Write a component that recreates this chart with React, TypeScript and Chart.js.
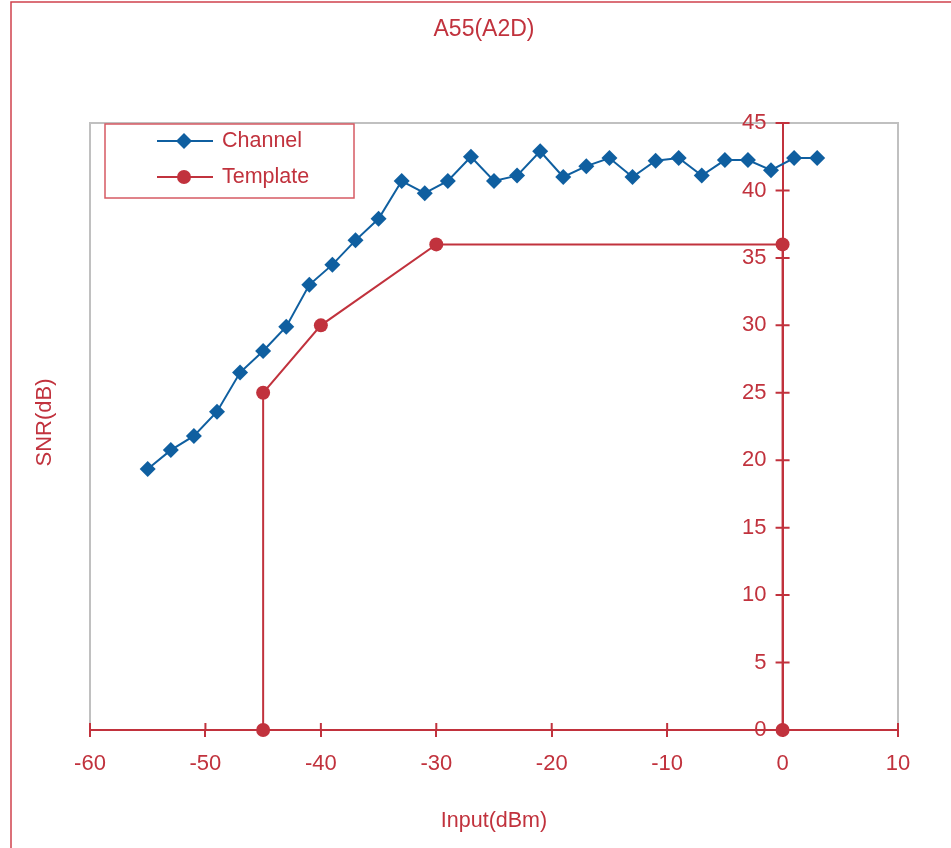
import React, { useEffect, useRef } from "react";
import { Chart, registerables } from "chart.js";

Chart.register(...registerables);

const chartTitle = "A55(A2D)";
const xAxisTitle = "Input(dBm)";
const yAxisTitle = "SNR(dB)";
const channelLabel = "Channel";
const templateLabel = "Template";

const channelX = [-55, -53, -51, -49, -47, -45, -43, -41, -39, -37, -35, -33, -31, -29, -27, -25, -23, -21, -19, -17, -15, -13, -11, -9, -7, -5, -3, -1, 1, 3];
const channelY = [19.35, 20.75, 21.8, 23.6, 26.5, 28.1, 29.9, 33.0, 34.5, 36.3, 37.9, 40.7, 39.8, 40.7, 42.5, 40.7, 41.1, 42.9, 41.0, 41.8, 42.4, 41.0, 42.2, 42.4, 41.1, 42.25, 42.25, 41.5, 42.4, 42.4];

const templateX = [-45, -45, -40, -30, 0, 0];
const templateY = [0, 25, 30, 36, 36, 0];

const xMin = -60;
const xMax = 10;
const xStep = 10;
const yMin = 0;
const yMax = 45;
const yStep = 5;

const RED = "#c1323d";
const BLUE = "#0f5fa0";
const FONT = "'Liberation Sans', Arial, sans-serif";

const decorPlugin = {
  id: "decor",
  beforeDraw(chart: any) {
    const ctx = chart.ctx;
    const a = chart.chartArea;
    ctx.save();
    ctx.fillStyle = "#ffffff";
    ctx.fillRect(0, 0, chart.width, chart.height);
    // outer frame
    ctx.strokeStyle = "#d0414c";
    ctx.lineWidth = 1.5;
    ctx.strokeRect(11, 2, chart.width + 20, chart.height + 20);
    // plot frame
    ctx.strokeStyle = "#c0c0c0";
    ctx.lineWidth = 2;
    ctx.strokeRect(a.left, a.top, a.right - a.left, a.bottom - a.top);
    ctx.restore();
  },
  beforeDatasetsDraw(chart: any) {
    const ctx = chart.ctx;
    const xs = chart.scales.x;
    const ys = chart.scales.y;
    const a = chart.chartArea;
    const x0 = xs.getPixelForValue(0);
    ctx.save();
    ctx.strokeStyle = RED;
    ctx.lineWidth = 2;
    ctx.beginPath();
    for (const t of xs.ticks) {
      const px = xs.getPixelForValue(t.value);
      ctx.moveTo(px, a.bottom);
      ctx.lineTo(px, a.bottom - 7);
    }
    for (const t of ys.ticks) {
      const py = ys.getPixelForValue(t.value);
      ctx.moveTo(x0 - 7, py);
      ctx.lineTo(x0 + 7, py);
    }
    ctx.stroke();
    // y tick labels (left of the axis line at x = 0)
    ctx.fillStyle = RED;
    ctx.font = `22px ${FONT}`;
    ctx.textAlign = "right";
    ctx.textBaseline = "middle";
    for (const t of ys.ticks) {
      const py = ys.getPixelForValue(t.value);
      ctx.fillText(String(t.label), x0 - 16, py);
    }
    ctx.restore();
  },
  afterDraw(chart: any) {
    const ctx = chart.ctx;
    const a = chart.chartArea;
    ctx.save();
    ctx.fillStyle = RED;
    ctx.font = `23px ${FONT}`;
    ctx.textAlign = "center";
    ctx.textBaseline = "middle";
    ctx.fillText(chartTitle, 484, 30);
    // y title
    ctx.font = `22px ${FONT}`;
    ctx.save();
    ctx.translate(45, (a.top + a.bottom) / 2 - 4);
    ctx.rotate(-Math.PI / 2);
    ctx.fillText(yAxisTitle, 0, 0);
    ctx.restore();
    // legend
    const lx = 105, ly = 124, lw = 249, lh = 74;
    ctx.strokeStyle = "#d65a63";
    ctx.lineWidth = 1.5;
    ctx.strokeRect(lx, ly, lw, lh);
    ctx.font = `21.5px ${FONT}`;
    const items = [
      { label: channelLabel, ds: chart.data.datasets[0], y: 141 },
      { label: templateLabel, ds: chart.data.datasets[1], y: 177 },
    ];
    for (const it of items) {
      const c = it.ds.borderColor;
      ctx.strokeStyle = c;
      ctx.lineWidth = 2;
      ctx.beginPath();
      ctx.moveTo(157, it.y);
      ctx.lineTo(213, it.y);
      ctx.stroke();
      ctx.fillStyle = c;
      ctx.beginPath();
      if (it.ds.pointStyle === "rectRot") {
        const r = 8;
        ctx.moveTo(184, it.y - r);
        ctx.lineTo(184 + r, it.y);
        ctx.lineTo(184, it.y + r);
        ctx.lineTo(184 - r, it.y);
        ctx.closePath();
      } else {
        ctx.arc(184, it.y, 7, 0, Math.PI * 2);
      }
      ctx.fill();
      ctx.fillStyle = RED;
      ctx.textAlign = "left";
      ctx.fillText(it.label, 222, it.y);
    }
    ctx.restore();
  },
};

export default function App() {
  const ref = useRef<HTMLCanvasElement | null>(null);
  useEffect(() => {
    if (!ref.current) return;
    const chart = new Chart(ref.current, {
      type: "line",
      data: {
        datasets: [
          {
            label: channelLabel,
            data: channelX.map((x, i) => ({ x, y: channelY[i] })),
            borderColor: BLUE,
            backgroundColor: BLUE,
            borderWidth: 2,
            pointStyle: "rectRot",
            pointRadius: 8,
            pointBorderWidth: 0,
            fill: false,
            clip: false,
          },
          {
            label: templateLabel,
            data: templateX.map((x, i) => ({ x, y: templateY[i] })),
            borderColor: RED,
            backgroundColor: RED,
            borderWidth: 2,
            pointStyle: "circle",
            pointRadius: 7,
            pointBorderWidth: 0,
            fill: false,
            clip: false,
          },
        ],
      } as any,
      options: {
        animation: false,
        responsive: false,
        layout: { padding: { left: 90, right: 53, top: 123, bottom: 0 } },
        plugins: {
          legend: { display: false },
          title: { display: false },
          tooltip: { enabled: false },
        },
        scales: {
          x: {
            type: "linear",
            position: "bottom",
            min: xMin,
            max: xMax,
            ticks: {
              stepSize: xStep,
              color: RED,
              font: { family: FONT, size: 22 },
              padding: 14,
            },
            grid: { drawOnChartArea: false, drawTicks: true, tickLength: 7, color: RED, lineWidth: 2 },
            border: { display: true, color: RED, width: 2 },
            title: {
              display: true,
              text: xAxisTitle,
              color: RED,
              font: { family: FONT, size: 21.5 },
              padding: { top: 4, bottom: 14 },
            },
            afterFit(scale: any) {
              scale.height = 118;
            },
          },
          y: {
            type: "linear",
            position: { x: 0 } as any,
            min: yMin,
            max: yMax,
            ticks: {
              stepSize: yStep,
              display: false,
            },
            grid: { drawOnChartArea: false, drawTicks: false, color: RED, lineWidth: 2 },
            border: { display: true, color: RED, width: 2 },
          },
        },
      } as any,
      plugins: [decorPlugin],
    });
    return () => chart.destroy();
  }, []);
  return (
    <div style={{ position: "fixed", left: 0, top: 0, width: 951, height: 848, overflow: "hidden" }}>
      <canvas ref={ref} width={951} height={848} style={{ display: "block" }} />
    </div>
  );
}
